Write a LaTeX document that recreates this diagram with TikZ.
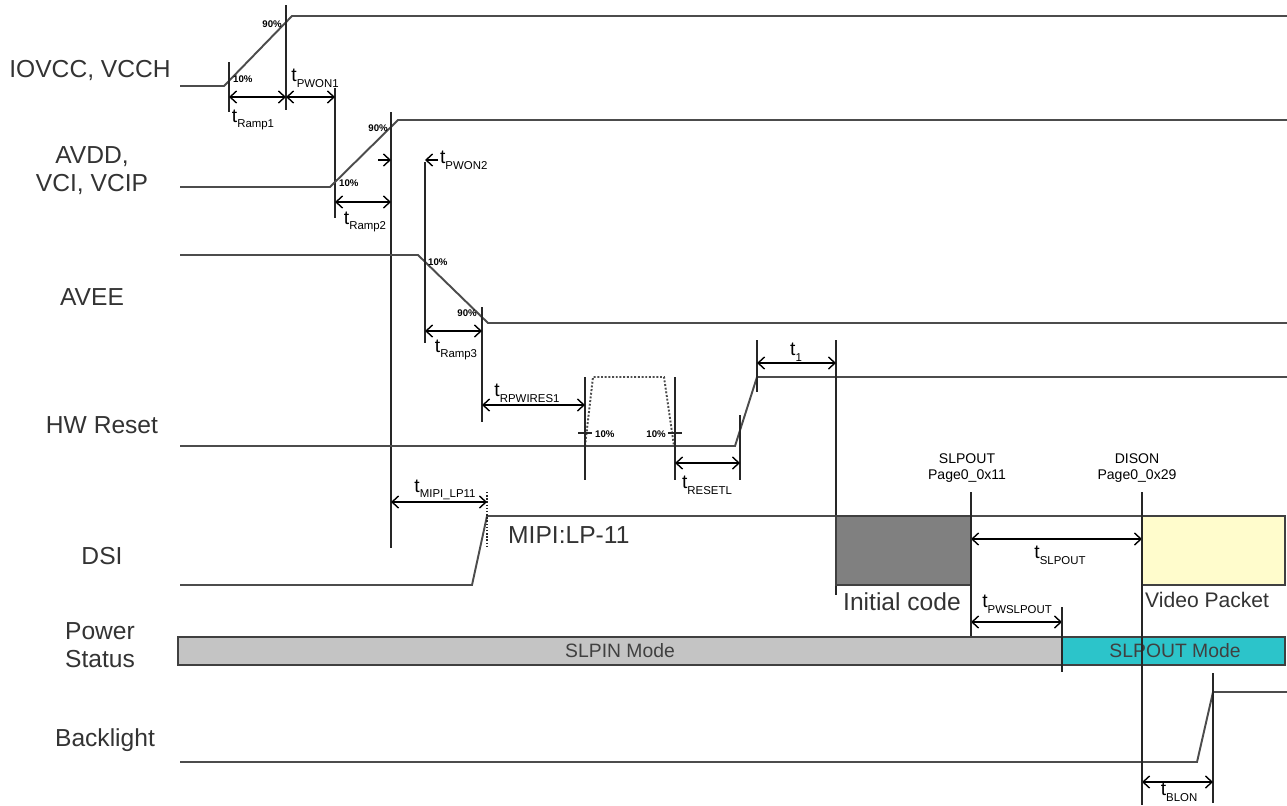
\documentclass[tikz,border=0pt]{standalone}
\usepackage{fontspec}
\setmainfont{Liberation Sans}
\usetikzlibrary{arrows.meta}

\definecolor{initgray}{RGB}{128,128,128}
\definecolor{videoyellow}{RGB}{255,252,204}
\definecolor{slpingray}{RGB}{196,196,196}
\definecolor{slpoutcyan}{RGB}{44,196,202}

% timing label: t with a small subscript
\newcommand{\tlab}[1]{t\raisebox{-0.55ex}{\fontsize{6.5}{7}\selectfont #1}}

\begin{document}
\begin{tikzpicture}[
    x=0.02cm, y=-0.02cm,
    % Styles
    signame/.style={font=\fontsize{14}{16}\selectfont, align=center, text=black!80},
    sigline/.style={line width=1.1pt, black!70},
    guide/.style={line width=0.8pt, black!85},
    dimarrow/.style={line width=0.8pt, {Straight Barb[length=1.3mm,width=2.4mm]}-{Straight Barb[length=1.3mm,width=2.4mm]}},
    onearrow/.style={line width=0.8pt, -{Straight Barb[length=1.3mm,width=2.4mm]}},
    pct/.style={font=\fontsize{5.5}{6}\selectfont\bfseries, inner sep=0.5pt},
    tname/.style={font=\fontsize{11}{13}\selectfont, inner sep=1pt},
    cmd/.style={font=\fontsize{8}{9}\selectfont, align=center, inner sep=1pt},
    boxline/.style={line width=1pt, black!75},
    modetext/.style={font=\fontsize{11}{13}\selectfont, text=black!75},
]
    \useasboundingbox (0,0) rectangle (1287,805);

    % Signal names
    \node[signame] (nIOVCC) at (90,70) {IOVCC, VCCH};
    \node[signame] (nAVDD) at (92,171) {AVDD,\\VCI, VCIP};
    \node[signame] (nAVEE) at (92,297) {AVEE};
    \node[signame] (nRESET) at (102,425) {HW Reset};
    \node[signame] (nDSI) at (102,556) {DSI};
    \node[signame] (nPOWER) at (100,645) {Power\\Status};
    \node[signame] (nBL) at (105,740) {Backlight};

    % IOVCC, VCCH
    \draw[sigline] (180,86) -- (224,86) -- (292,16) -- (1287,16);
    \draw[guide] (229,62) -- (229,112);
    \draw[guide] (286,5) -- (286,110);
    \draw[guide] (335,88) -- (335,218);
    \draw[dimarrow] (229,97) -- (286,97);
    \draw[dimarrow] (286,97) -- (335,97);
    \node[pct, anchor=east] (p90a) at (283,24) {90\%};
    \node[pct, anchor=west] (p10a) at (232,79) {10\%};
    \node[tname] (tRamp1) at (253,120) {\tlab{Ramp1}};
    \node[tname] (tPWON1) at (315,78) {\tlab{PWON1}};

    % AVDD, VCI, VCIP
    \draw[sigline] (180,187) -- (330,187) -- (398,120) -- (1287,120);
    \draw[guide] (391,112) -- (391,548);
    \draw[dimarrow] (335,202) -- (391,202);
    \draw[onearrow] (378,160) -- (391,160);
    \draw[onearrow] (438,160) -- (425,160);
    \node[pct, anchor=east] (p90b) at (389,128) {90\%};
    \node[pct, anchor=west] (p10b) at (338,183) {10\%};
    \node[tname] (tRamp2) at (365,222) {\tlab{Ramp2}};
    \node[tname, anchor=west] (tPWON2) at (438,160) {\tlab{PWON2}};

    % AVEE
    \draw[sigline] (180,255) -- (418,255) -- (488,323) -- (1287,323);
    \draw[guide] (425,162) -- (425,343);
    \draw[guide] (482,307) -- (482,422);
    \draw[dimarrow] (425,331) -- (482,331);
    \node[pct, anchor=west] (p10c) at (427,262) {10\%};
    \node[pct, anchor=east] (p90c) at (478,313) {90\%};
    \node[tname] (tRamp3) at (456,350) {\tlab{Ramp3}};

    % HW Reset
    \draw[sigline] (180,446) -- (735,446) -- (757,377) -- (1287,377);
    \draw[sigline, densely dotted] (585,446) -- (593,377) -- (664,377) -- (674,446);
    \draw[guide] (585,377) -- (585,480);
    \draw[guide] (675,377) -- (675,480);
    \draw[guide] (740,415) -- (740,480);
    \draw[guide] (757,340) -- (757,392);
    \draw[guide] (836,340) -- (836,595);
    \draw[guide] (578,433) -- (592,433);
    \draw[guide] (668,433) -- (682,433);
    \node[pct, anchor=west] (p10d) at (594,434) {10\%};
    \node[pct, anchor=east] (p10e) at (667,434) {10\%};
    \draw[dimarrow] (482,405) -- (585,405);
    \draw[dimarrow] (675,463) -- (740,463);
    \draw[dimarrow] (757,363) -- (836,363);
    \node[tname] (tRPW) at (527,393) {\tlab{RPWIRES1}};
    \node[tname] (tRESETL) at (707,485) {\tlab{RESETL}};
    \node[tname] (tone) at (796,352) {\tlab{1}};

    % DSI
    \draw[sigline] (180,585) -- (472,585) -- (487,516) -- (836,516);
    \draw[guide, densely dotted] (487,492) -- (487,548);
    \draw[dimarrow] (391,502) -- (487,502);
    \node[tname] (tMIPI) at (445,490) {\tlab{MIPI\_LP11}};
    \node[signame, anchor=west] (lp11) at (502,535) {MIPI:LP-11};
    \draw[boxline, fill=initgray] (836,516) rectangle (971,585);
    \draw[sigline] (971,516) -- (1142,516);
    \draw[boxline, fill=videoyellow] (1142,516) rectangle (1285,585);
    \node[signame] (initcode) at (902,602) {Initial code};
    \node[font=\fontsize{12}{14}\selectfont, text=black!80, anchor=west] (video) at (1139,600) {Video Packet};
    \node[cmd] (slpout) at (967,468) {SLPOUT\\Page0\_0x11};
    \node[cmd] (dison) at (1137,468) {DISON\\Page0\_0x29};
    \draw[dimarrow] (971,539) -- (1142,539);
    \node[tname] (tSLPOUT) at (1060,555) {\tlab{SLPOUT}};
    \draw[dimarrow] (971,622) -- (1062,622);
    \node[tname] (tPWSLPOUT) at (1017,604) {\tlab{PWSLPOUT}};

    % Power Status
    \draw[boxline, fill=slpingray] (178,637) rectangle (1062,665);
    \draw[boxline, fill=slpoutcyan] (1062,637) rectangle (1285,665);
    \node[modetext] (slpin) at (620,651) {SLPIN Mode};
    \node[modetext] (slpoutm) at (1175,651) {SLPOUT Mode};

    % Backlight
    \draw[sigline] (180,762) -- (1197,762) -- (1213,692) -- (1287,692);
    \draw[guide] (1213,673) -- (1213,803);
    \draw[dimarrow] (1142,782) -- (1213,782);
    \node[tname] (tBLON) at (1179,792) {\tlab{BLON}};

    % Command markers
    \draw[guide] (971,492) -- (971,636);
    \draw[guide] (1142,492) -- (1142,805);
    \draw[guide] (1062,607) -- (1062,672);

\end{tikzpicture}
\end{document}
